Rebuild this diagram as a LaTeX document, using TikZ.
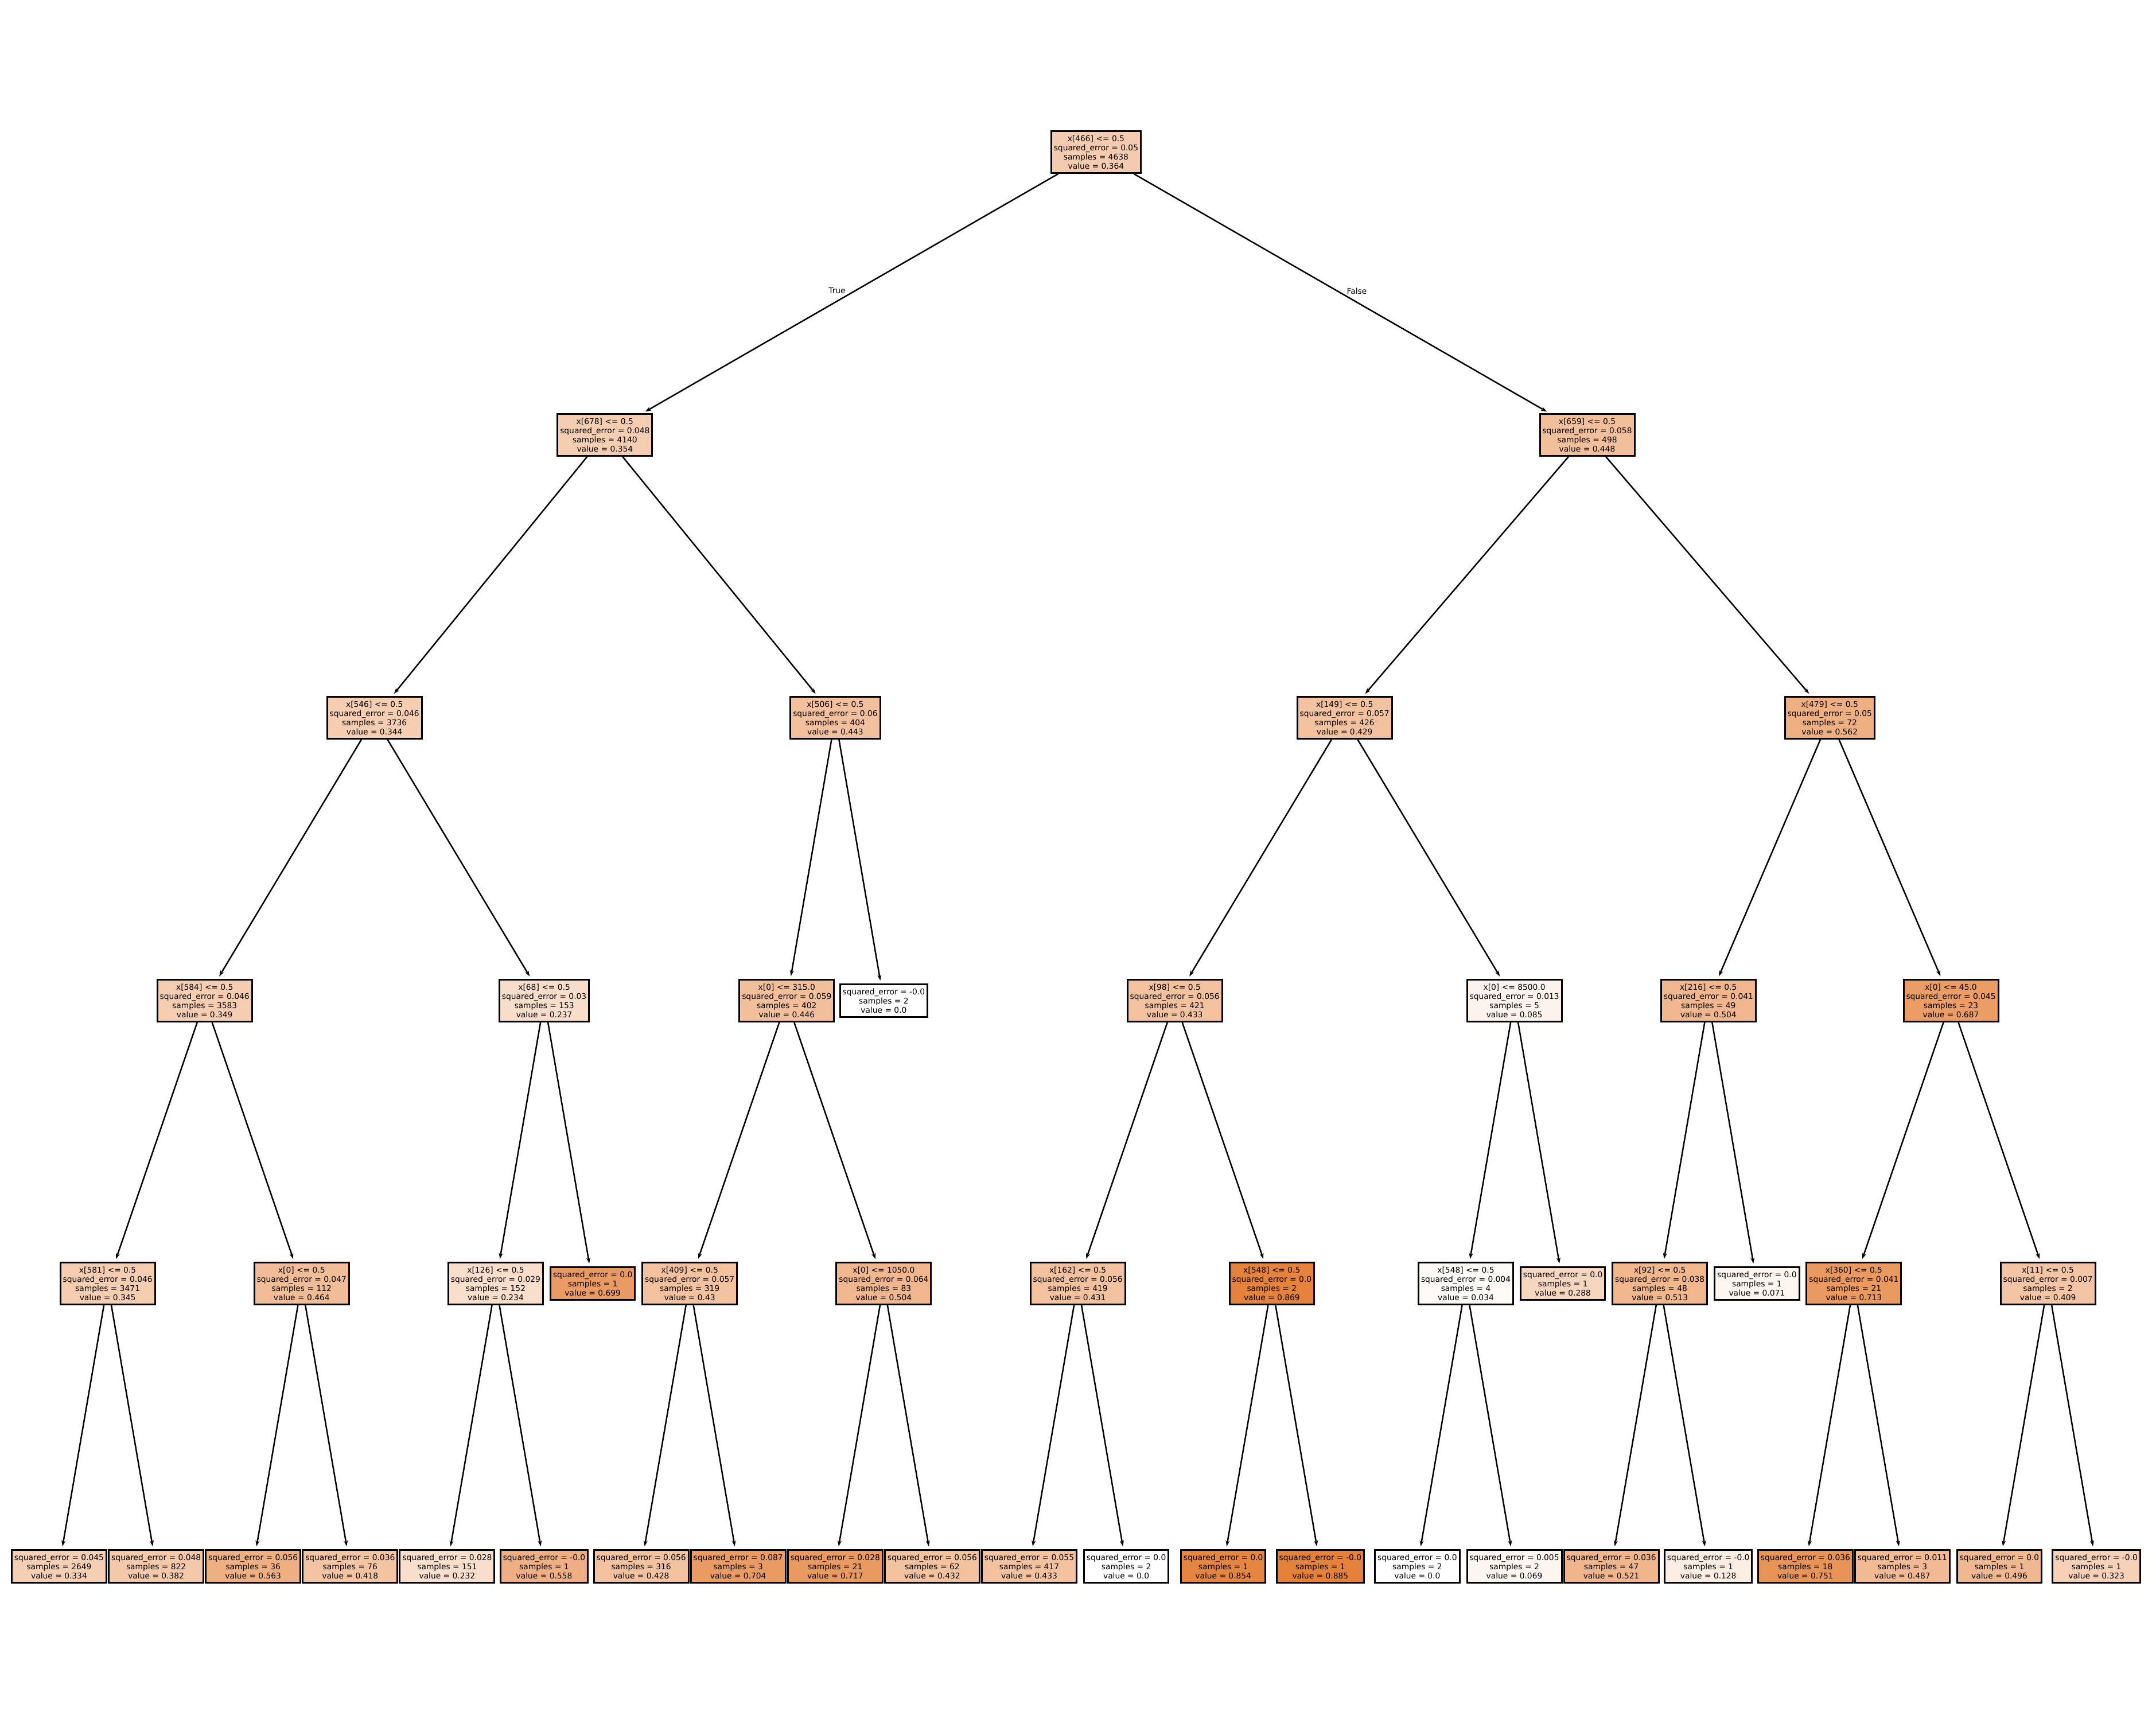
\documentclass[tikz,border=0pt]{standalone}
\usepackage{fontspec}
\setmainfont{DejaVu Sans}
\usetikzlibrary{arrows.meta}

\definecolor{treeorange}{RGB}{229,129,57}
\newcommand{\treefont}{\fontsize{3.93pt}{4.55pt}\selectfont}

\tikzset{
  treebox/.style={rectangle,draw=black,line width=0.03cm,align=center,
    font=\treefont,inner xsep=0.045cm,inner ysep=2.05pt},
  nodefill/.style={fill=treeorange!#1!white},
  edgelabel/.style={font=\treefont,inner sep=0pt}
}

\begin{document}
\begin{tikzpicture}

      \useasboundingbox (0,0) rectangle (37.58,29.95);

      % Nodes
      \begin{scope}[every node/.style={treebox}]
        \node[nodefill=41.1] (001) at (19.104,27.30) {x[466] <= 0.5\\squared\_error = 0.05\\samples = 4638\\value = 0.364};

        \node[nodefill=40.0] (101) at (10.543,22.37) {x[678] <= 0.5\\squared\_error = 0.048\\samples = 4140\\value = 0.354};
        \node[nodefill=50.6] (102) at (27.665,22.37) {x[659] <= 0.5\\squared\_error = 0.058\\samples = 498\\value = 0.448};

        \node[nodefill=38.9] (201) at (6.527,17.44) {x[546] <= 0.5\\squared\_error = 0.046\\samples = 3736\\value = 0.344};
        \node[nodefill=50.1] (202) at (14.559,17.44) {x[506] <= 0.5\\squared\_error = 0.06\\samples = 404\\value = 0.443};
        \node[nodefill=48.5] (203) at (23.437,17.44) {x[149] <= 0.5\\squared\_error = 0.057\\samples = 426\\value = 0.429};
        \node[nodefill=63.5] (204) at (31.892,17.44) {x[479] <= 0.5\\squared\_error = 0.05\\samples = 72\\value = 0.562};

        \node[nodefill=39.4] (301) at (3.567,12.51) {x[584] <= 0.5\\squared\_error = 0.046\\samples = 3583\\value = 0.349};
        \node[nodefill=26.8] (302) at (9.486,12.51) {x[68] <= 0.5\\squared\_error = 0.03\\samples = 153\\value = 0.237};
        \node[nodefill=50.4] (303) at (13.713,12.51) {x[0] <= 315.0\\squared\_error = 0.059\\samples = 402\\value = 0.446};
        \node[nodefill=0] (304) at (15.404,12.51) {squared\_error = -0.0\\samples = 2\\value = 0.0};
        \node[nodefill=48.9] (305) at (20.477,12.51) {x[98] <= 0.5\\squared\_error = 0.056\\samples = 421\\value = 0.433};
        \node[nodefill=9.6] (306) at (26.396,12.51) {x[0] <= 8500.0\\squared\_error = 0.013\\samples = 5\\value = 0.085};
        \node[nodefill=56.9] (307) at (29.778,12.51) {x[216] <= 0.5\\squared\_error = 0.041\\samples = 49\\value = 0.504};
        \node[nodefill=77.6] (308) at (34.005,12.51) {x[0] <= 45.0\\squared\_error = 0.045\\samples = 23\\value = 0.687};

        \node[nodefill=39.0] (401) at (1.876,7.58) {x[581] <= 0.5\\squared\_error = 0.046\\samples = 3471\\value = 0.345};
        \node[nodefill=52.4] (402) at (5.258,7.58) {x[0] <= 0.5\\squared\_error = 0.047\\samples = 112\\value = 0.464};
        \node[nodefill=26.4] (403) at (8.640,7.58) {x[126] <= 0.5\\squared\_error = 0.029\\samples = 152\\value = 0.234};
        \node[nodefill=79.0] (404) at (10.331,7.58) {squared\_error = 0.0\\samples = 1\\value = 0.699};
        \node[nodefill=48.6] (405) at (12.022,7.58) {x[409] <= 0.5\\squared\_error = 0.057\\samples = 319\\value = 0.43};
        \node[nodefill=56.9] (406) at (15.404,7.58) {x[0] <= 1050.0\\squared\_error = 0.064\\samples = 83\\value = 0.504};
        \node[nodefill=48.7] (407) at (18.786,7.58) {x[162] <= 0.5\\squared\_error = 0.056\\samples = 419\\value = 0.431};
        \node[nodefill=98.2] (408) at (22.168,7.58) {x[548] <= 0.5\\squared\_error = 0.0\\samples = 2\\value = 0.869};
        \node[nodefill=3.8] (409) at (25.550,7.58) {x[548] <= 0.5\\squared\_error = 0.004\\samples = 4\\value = 0.034};
        \node[nodefill=32.5] (410) at (27.241,7.58) {squared\_error = 0.0\\samples = 1\\value = 0.288};
        \node[nodefill=58.0] (411) at (28.932,7.58) {x[92] <= 0.5\\squared\_error = 0.038\\samples = 48\\value = 0.513};
        \node[nodefill=8.0] (412) at (30.623,7.58) {squared\_error = 0.0\\samples = 1\\value = 0.071};
        \node[nodefill=80.6] (413) at (32.314,7.58) {x[360] <= 0.5\\squared\_error = 0.041\\samples = 21\\value = 0.713};
        \node[nodefill=46.2] (414) at (35.696,7.58) {x[11] <= 0.5\\squared\_error = 0.007\\samples = 2\\value = 0.409};

        \node[nodefill=37.7] (501) at (1.030,2.65) {squared\_error = 0.045\\samples = 2649\\value = 0.334};
        \node[nodefill=43.2] (502) at (2.721,2.65) {squared\_error = 0.048\\samples = 822\\value = 0.382};
        \node[nodefill=63.6] (503) at (4.412,2.65) {squared\_error = 0.056\\samples = 36\\value = 0.563};
        \node[nodefill=47.2] (504) at (6.103,2.65) {squared\_error = 0.036\\samples = 76\\value = 0.418};
        \node[nodefill=26.2] (505) at (7.794,2.65) {squared\_error = 0.028\\samples = 151\\value = 0.232};
        \node[nodefill=63.1] (506) at (9.485,2.65) {squared\_error = -0.0\\samples = 1\\value = 0.558};
        \node[nodefill=48.4] (507) at (11.176,2.65) {squared\_error = 0.056\\samples = 316\\value = 0.428};
        \node[nodefill=79.5] (508) at (12.867,2.65) {squared\_error = 0.087\\samples = 3\\value = 0.704};
        \node[nodefill=81.0] (509) at (14.558,2.65) {squared\_error = 0.028\\samples = 21\\value = 0.717};
        \node[nodefill=48.8] (510) at (16.249,2.65) {squared\_error = 0.056\\samples = 62\\value = 0.432};
        \node[nodefill=48.9] (511) at (17.940,2.65) {squared\_error = 0.055\\samples = 417\\value = 0.433};
        \node[nodefill=0] (512) at (19.631,2.65) {squared\_error = 0.0\\samples = 2\\value = 0.0};
        \node[nodefill=96.5] (513) at (21.322,2.65) {squared\_error = 0.0\\samples = 1\\value = 0.854};
        \node[nodefill=100] (514) at (23.013,2.65) {squared\_error = -0.0\\samples = 1\\value = 0.885};
        \node[nodefill=0] (515) at (24.704,2.65) {squared\_error = 0.0\\samples = 2\\value = 0.0};
        \node[nodefill=7.8] (516) at (26.395,2.65) {squared\_error = 0.005\\samples = 2\\value = 0.069};
        \node[nodefill=58.9] (517) at (28.086,2.65) {squared\_error = 0.036\\samples = 47\\value = 0.521};
        \node[nodefill=14.5] (518) at (29.777,2.65) {squared\_error = -0.0\\samples = 1\\value = 0.128};
        \node[nodefill=84.9] (519) at (31.468,2.65) {squared\_error = 0.036\\samples = 18\\value = 0.751};
        \node[nodefill=55.0] (520) at (33.159,2.65) {squared\_error = 0.011\\samples = 3\\value = 0.487};
        \node[nodefill=56.0] (521) at (34.850,2.65) {squared\_error = 0.0\\samples = 1\\value = 0.496};
        \node[nodefill=36.5] (522) at (36.541,2.65) {squared\_error = -0.0\\samples = 1\\value = 0.323};
      \end{scope}

      % Edge labels
      \node[edgelabel] (truelab) at (14.59,24.88) {True};
      \node[edgelabel] (falselab) at (23.65,24.88) {False};

      % Edges
      \begin{scope}[every edge/.style={draw,line width=0.025cm,-{Stealth[length=0.1cm,width=0.07cm]},shorten >=0.05cm}]
        \path (001) edge (101);
        \path (001) edge (102);

        \path (101) edge (201);
        \path (101) edge (202);
        \path (102) edge (203);
        \path (102) edge (204);

        \path (201) edge (301);
        \path (201) edge (302);
        \path (202) edge (303);
        \path (202) edge (304);
        \path (203) edge (305);
        \path (203) edge (306);
        \path (204) edge (307);
        \path (204) edge (308);

        \path (301) edge (401);
        \path (301) edge (402);
        \path (302) edge (403);
        \path (302) edge (404);
        \path (303) edge (405);
        \path (303) edge (406);
        \path (305) edge (407);
        \path (305) edge (408);
        \path (306) edge (409);
        \path (306) edge (410);
        \path (307) edge (411);
        \path (307) edge (412);
        \path (308) edge (413);
        \path (308) edge (414);

        \path (401) edge (501);
        \path (401) edge (502);
        \path (402) edge (503);
        \path (402) edge (504);
        \path (403) edge (505);
        \path (403) edge (506);
        \path (405) edge (507);
        \path (405) edge (508);
        \path (406) edge (509);
        \path (406) edge (510);
        \path (407) edge (511);
        \path (407) edge (512);
        \path (408) edge (513);
        \path (408) edge (514);
        \path (409) edge (515);
        \path (409) edge (516);
        \path (411) edge (517);
        \path (411) edge (518);
        \path (413) edge (519);
        \path (413) edge (520);
        \path (414) edge (521);
        \path (414) edge (522);
      \end{scope}

    \end{tikzpicture}
\end{document}
